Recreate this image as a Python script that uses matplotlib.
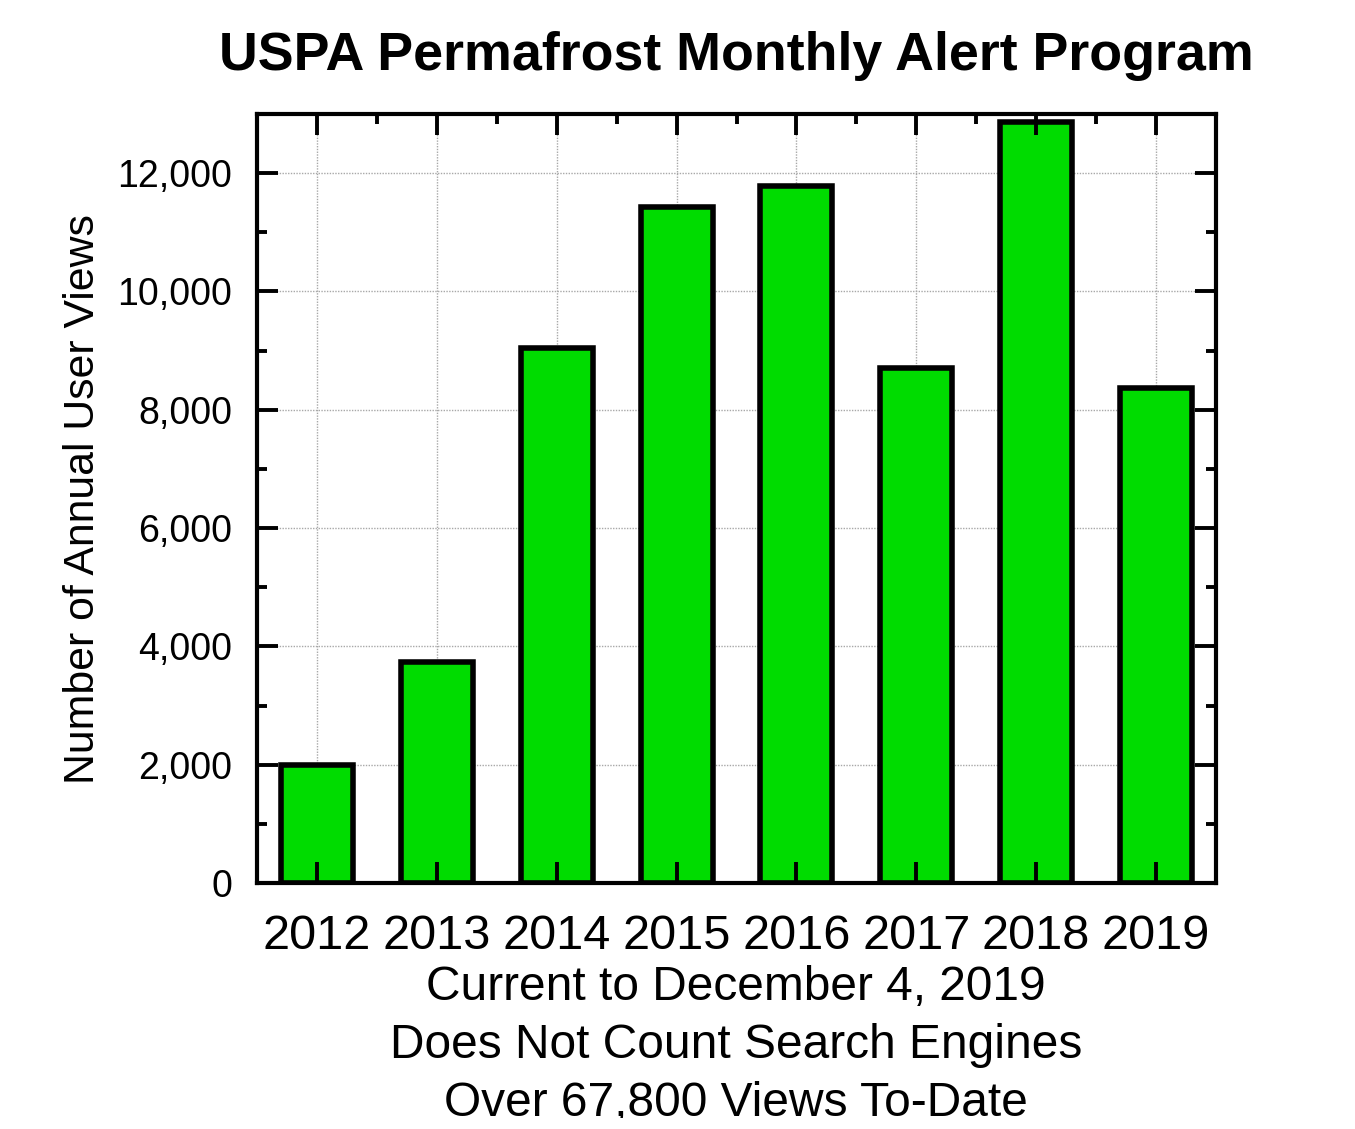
import matplotlib
matplotlib.use("Agg")
import matplotlib.pyplot as plt
from matplotlib.patches import Rectangle
from matplotlib.ticker import FuncFormatter, MultipleLocator

years = ["2012", "2013", "2014", "2015", "2016", "2017", "2018", "2019"]
views = [1990, 3740, 9040, 11420, 11780, 8700, 12860, 8360]
yticks = [0, 2000, 4000, 6000, 8000, 10000, 12000]
title = "USPA Permafrost Monthly Alert Program"
ylabel = "Number of Annual User Views"
notes = ["Current to December 4, 2019", "Does Not Count Search Engines", "Over 67,800 Views To-Date"]

plt.rcParams['font.family'] = ['Liberation Sans', 'DejaVu Sans']

W, H = 1355, 1129
fig = plt.figure(figsize=(W / 100, H / 100), dpi=100)
ax = fig.add_axes([257 / W, 1 - 883 / H, (1216 - 257) / W, (883 - 114) / H])

x = list(range(len(years)))
ax.bar(x, views, width=0.6, color="#00DC00", edgecolor="black", linewidth=4.0, zorder=1)

ax.set_xlim(-0.5, len(years) - 0.5)
ax.set_ylim(0, 13000)
ax.set_xticks(x)
ax.set_xticklabels(years)
ax.set_yticks(yticks)
ax.yaxis.set_major_formatter(FuncFormatter(lambda v, p: f"{int(v):,}"))
ax.yaxis.set_minor_locator(MultipleLocator(1000))
ax.xaxis.set_minor_locator(MultipleLocator(0.5))

# grid below bars
for xv in x:
    ax.axvline(xv, color="#a8a8a8", linestyle=(0, (1, 1)), linewidth=1.0, zorder=0.5)
for yv in yticks:
    ax.axhline(yv, color="#a8a8a8", linestyle=(0, (1, 1)), linewidth=1.0, zorder=0.5)

ax.set_axisbelow(False)
for s in ax.spines.values():
    s.set_linewidth(3)
    s.set_zorder(3)

ax.tick_params(axis="x", which="major", direction="in", length=15, width=2.8,
               top=True, bottom=True, labelsize=35, pad=22)
ax.tick_params(axis="x", which="minor", direction="in", length=7, width=2.8,
               top=True, bottom=False)
ax.tick_params(axis="y", which="major", direction="in", length=15, width=2.8,
               left=True, right=True, labelsize=27, pad=18)
ax.tick_params(axis="y", which="minor", direction="in", length=7, width=2.8,
               left=True, right=True)

fig.text(83 / W, 1 - 499 / H, ylabel, rotation=90, ha="center", va="center", fontsize=30.8)
fig.text(736 / W, 1 - 56 / H, title, ha="center", va="center", fontsize=38.7, fontweight="bold")

for i, line in enumerate(notes):
    fig.text(736 / W, 1 - (988 + 58 * i) / H, line, ha="center", va="center", fontsize=34.5)

# the reference image is cut off just below the last note line
fig.add_artist(Rectangle((0, 0), 1, 11 / H, transform=fig.transFigure,
                         facecolor="white", edgecolor="none", zorder=10))

fig.savefig("out.png", dpi=100)
